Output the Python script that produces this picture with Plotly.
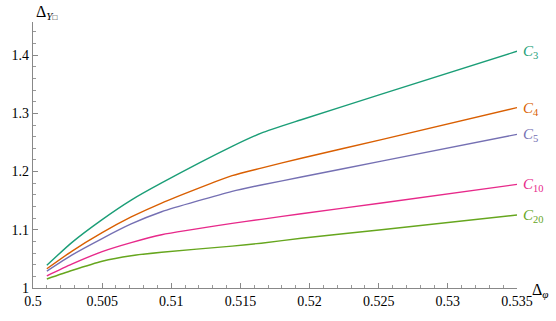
import plotly.graph_objects as go

delta_phi = [0.501, 0.5028, 0.505, 0.5071, 0.5093, 0.5144, 0.5165, 0.5194, 0.5252, 0.535]

# Δ_Y□ for each C_n
c3 = [1.039, 1.078, 1.1175, 1.151, 1.1805, 1.2433, 1.266, 1.289, 1.333, 1.4067]
c4 = [1.033, 1.063, 1.095, 1.122, 1.146, 1.193, 1.206, 1.223, 1.255, 1.310]
c5 = [1.029, 1.0565, 1.085, 1.110, 1.131, 1.166, 1.177, 1.1906, 1.218, 1.264]
c10 = [1.021, 1.041, 1.0625, 1.078, 1.0915, 1.111, 1.118, 1.1275, 1.146, 1.178]
c20 = [1.0155, 1.030, 1.046, 1.0555, 1.0615, 1.072, 1.077, 1.0855, 1.100, 1.1255]

series = [("3", c3, "#1b9e77"), ("4", c4, "#d95f02"), ("5", c5, "#7570b3"),
          ("10", c10, "#e7298a"), ("20", c20, "#66a61e")]

serif = "Liberation Serif, DejaVu Serif, serif"

fig = go.Figure()
for n, ys, col in series:
    fig.add_trace(go.Scatter(
        x=delta_phi, y=ys, mode="lines",
        line=dict(color=col, width=1.4, shape="spline", smoothing=0.6),
        showlegend=False, hoverinfo="skip"
    ))
    fig.add_annotation(
        x=delta_phi[-1], y=ys[-1], xref="x", yref="y",
        text=f"<i>C</i><sub>{n}</sub>", showarrow=False,
        xanchor="left", yanchor="middle", xshift=4, yshift=-1,
        font=dict(family=serif, size=15, color=col)
    )

axis_common = dict(
    showgrid=False, zeroline=False, showline=True,
    linecolor="#888888", linewidth=1.2,
    ticks="inside", ticklen=5, tickcolor="#888888", tickwidth=1,
    tickfont=dict(family=serif, size=14, color="black"),
)

fig.update_xaxes(
    range=[0.5, 0.535], tick0=0.5, dtick=0.005,
    minor=dict(ticks="inside", ticklen=3, dtick=0.001, tickcolor="#999999"),
    **axis_common
)
fig.update_yaxes(
    range=[1.0, 1.457], tick0=1.0, dtick=0.1, tickformat="~g",
    minor=dict(ticks="inside", ticklen=3, dtick=0.02, tickcolor="#999999"),
    **axis_common
)

fig.add_annotation(
    x=1.0, y=0.0, xref="paper", yref="paper", xanchor="left", yanchor="middle",
    xshift=13, yshift=-2, showarrow=False,
    text="Δ<sub><i>φ</i></sub>", font=dict(family=serif, size=16, color="black")
)
fig.add_annotation(
    x=0.0, y=1.0, xref="paper", yref="paper", xanchor="left", yanchor="bottom",
    xshift=1, yshift=-2, showarrow=False,
    text="Δ<sub><i>Y</i><span style='font-size:8px'>□</span></sub>",
    font=dict(family=serif, size=16, color="black")
)

fig.update_layout(
    width=556, height=321,
    margin=dict(l=31, r=39, t=22, b=25),
    plot_bgcolor="white", paper_bgcolor="white",
)

fig.write_html("out.html", config={"displayModeBar": False},
               post_script="document.body.style.margin='0';")
